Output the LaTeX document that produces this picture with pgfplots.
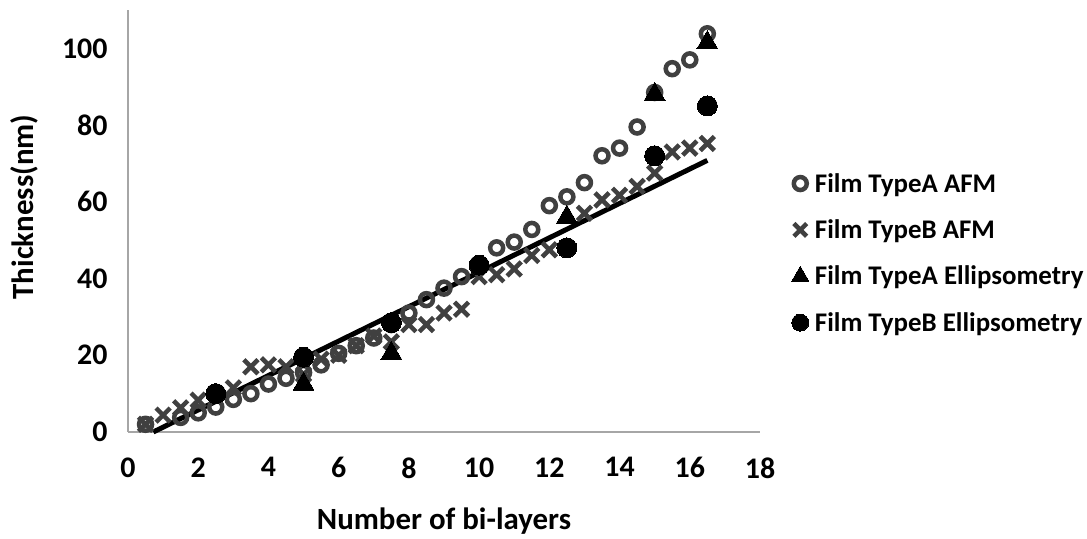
\documentclass[border=0pt]{standalone}
\usepackage{fontspec}
\setmainfont{Carlito}
\usepackage{pgfplots}
\pgfplotsset{compat=1.18}
\definecolor{markgray}{HTML}{404040}
\definecolor{axisgray}{HTML}{A6A6A6}

\begin{document}
\begin{tikzpicture}
\useasboundingbox (0,0) rectangle (1087bp,539bp);
\begin{axis}[
  at={(128bp,107bp)}, anchor=south west,
  scale only axis, width=632bp, height=422bp,
  xmin=0, xmax=18, ymin=0, ymax=110,
  xtick={0,2,...,18}, ytick={0,20,...,100},
  axis x line*=bottom, axis y line*=left,
  axis line style={axisgray, line width=1.3bp, -},
  major tick length=0pt,
  /pgf/number format/assume math mode=true,
  tick label style={font=\fontsize{30}{36}\selectfont\bfseries},
  xticklabel style={yshift=-22bp},
  yticklabel style={xshift=-17bp},
  clip=false,
  legend style={draw=none, fill=none, at={(1.045,0.424)}, anchor=west,
    font=\fontsize{27}{32}\selectfont\bfseries, row sep=22bp,
    legend cell align=left},
]
\addlegendimage{only marks, mark=o, mark size=6.5bp, markgray, line width=4.5bp,
  mark options={line width=4.5bp}}
\addlegendentry{\hspace{4bp}Film TypeA AFM}
\addlegendimage{only marks, mark=x, mark size=9bp, markgray, line width=4.5bp,
  mark options={line width=4.5bp}}
\addlegendentry{\hspace{4bp}Film TypeB AFM}
\addlegendimage{only marks, mark=triangle*, mark size=10bp, black, line width=0pt}
\addlegendentry{\hspace{4bp}Film TypeA Ellipsometry}
\addlegendimage{only marks, mark=*, mark size=8.5bp, black, line width=0pt}
\addlegendentry{\hspace{4bp}Film TypeB Ellipsometry}
\addplot[only marks, mark=o, mark size=6.5bp, markgray, line width=4.5bp, forget plot]
  coordinates {(0.5,2)(1.5,3.8)(2,5)(2.5,6.5)(3,8.5)(3.5,10)(4,12.5)(4.5,14)
  (5,15.5)(5.5,17.5)(6,20.5)(6.5,22.5)(7,24.5)(7.5,28)(8,31)(8.5,34.5)
  (9,37.5)(9.5,40.5)(10,43.5)(10.5,48)(11,49.5)(11.5,52.8)(12,59)(12.5,61.3)
  (13,65)(13.5,72)(14,74)(14.5,79.5)(15,88.5)(15.5,94.7)(16,97)(16.5,103.8)};
\addplot[only marks, mark=x, mark size=10bp, markgray, line width=4.5bp,
  mark options={line width=4.5bp}, forget plot]
  coordinates {(0.5,2)(1,4.4)(1.5,6.3)(2,8.3)(2.5,10)(3,11.5)(3.5,17)(4,17.5)
  (4.5,17)(5,15)(5.5,19)(6,20)(6.5,22.5)(7,25)(7.5,23.5)(8,28)(8.5,28)
  (9,31)(9.5,32)(10,40.5)(10.5,41)(11,42.5)(11.5,46)(12,47.5)(13,57)
  (13.5,60.5)(14,61.7)(14.5,64)(15,67.5)(15.5,73)(16,74)(16.5,75.2)};
\addplot[only marks, mark=triangle*, mark size=12bp, black, line width=0pt, forget plot]
  coordinates {(5,12.5)(7.5,20.5)(12.5,56)(15,88)(16.5,101.5)};
\addplot[only marks, mark=*, mark size=10bp, black, line width=0pt, forget plot]
  coordinates {(2.5,10)(5,19.5)(7.5,28.5)(10,43.5)(12.5,48)(15,72)(16.5,85)};
\addplot[black, line width=5bp, forget plot]
  coordinates {(0.72,0)(16.5,70.8)};
\end{axis}
\node[font=\fontsize{31}{36}\selectfont\bfseries] at (444bp,18bp) {Number of bi-layers};
\node[font=\fontsize{31}{36}\selectfont\bfseries, rotate=90] at (24bp,332bp) {Thickness(nm)};
\end{tikzpicture}
\end{document}
